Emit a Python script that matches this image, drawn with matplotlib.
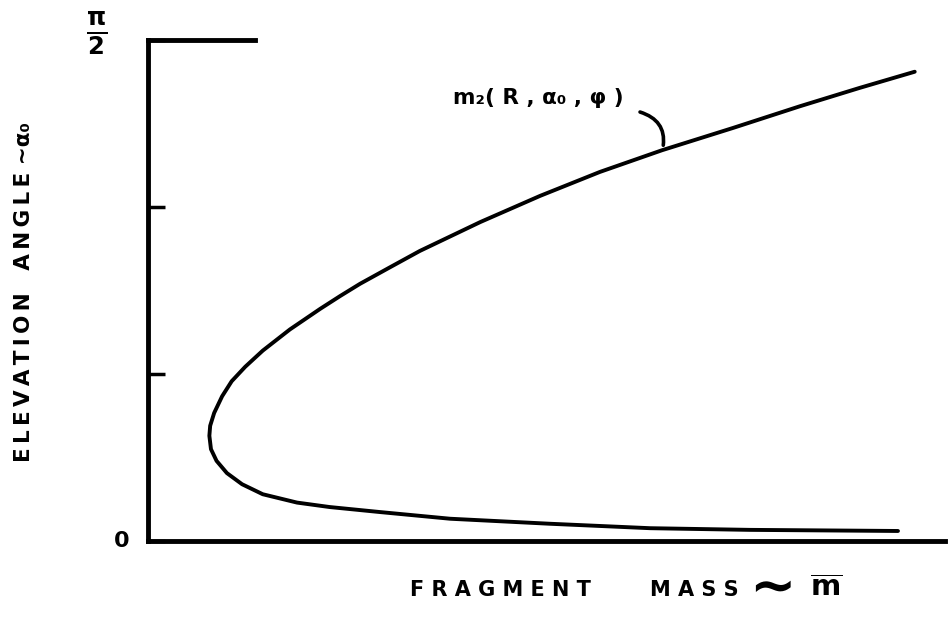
import matplotlib.pyplot as plt

# fragment mass (arbitrary units) vs elevation angle (degrees) along m2(R, a0, phi)
mass_upper = [0.962, 0.893, 0.818, 0.734, 0.645, 0.567, 0.492, 0.417, 0.379,
              0.341, 0.304, 0.266, 0.241, 0.216, 0.178, 0.144, 0.122, 0.105,
              0.093, 0.083, 0.078, 0.077]
angle_upper = [84.3, 81.4, 78.1, 74.2, 70.2, 66.3, 62.0, 57.3, 54.7,
               52.1, 49.2, 46.2, 44.0, 41.7, 38.0, 34.2, 31.3, 28.7,
               26.0, 23.0, 20.7, 18.9]
mass_lower = [0.077, 0.079, 0.086, 0.099, 0.118, 0.144, 0.187, 0.228,
              0.291, 0.379, 0.504, 0.630, 0.755, 0.941]
angle_lower = [18.9, 16.5, 14.4, 12.2, 10.2, 8.4, 6.9, 6.1,
               5.2, 4.0, 3.1, 2.3, 2.0, 1.8]

yticks = [0, 30, 60, 90]

mass = mass_upper + mass_lower[1:]
angle = angle_upper + angle_lower[1:]

fig = plt.figure(figsize=(9.48, 6.18), dpi=100)
ax = fig.add_axes([148 / 948, 77 / 618, 797 / 948, 501 / 618])

ax.plot(mass, angle, color='black', lw=2.8, solid_capstyle='round',
        solid_joinstyle='round')

ax.set_xlim(0, 1)
ax.set_ylim(0, 90)
ax.set_xticks([])
ax.set_yticks(yticks)
ax.set_yticklabels([])
ax.tick_params(axis='y', direction='in', length=12, width=2.5)

for side in ['left', 'bottom', 'top']:
    ax.spines[side].set_linewidth(3.5)
ax.spines['right'].set_visible(False)
ax.spines['top'].set_bounds(0, 0.134)

bold = dict(fontweight='bold', color='black')
ax.text(-0.033, 0, '0', ha='center', va='center', fontsize=16, **bold)
ax.text(-0.064, 91.2, r'$\mathbf{\frac{\pi}{2}}$', ha='center', va='center',
        fontsize=25, **bold)

ax.text(0.49, 79.6, 'm\u2082( R , \u03b1\u2080 , \u03c6 )', ha='center',
        va='center', fontsize=15.5, **bold)
ax.annotate('', xy=(0.646, 70.6), xytext=(0.614, 77.2),
            arrowprops=dict(arrowstyle='-', lw=2.6, color='black',
                            connectionstyle='angle3,angleA=-15,angleB=80'))

fig.text(410 / 948, 1 - 590 / 618, 'F R A G M E N T', ha='left', va='center',
         fontsize=15, **bold)
fig.text(650 / 948, 1 - 590 / 618, 'M A S S', ha='left', va='center',
         fontsize=15, **bold)
fig.text(772 / 948, 1 - 604 / 618, '\u223c', ha='center', va='baseline',
         fontsize=40, **bold)
fig.text(826 / 948, 1 - 588 / 618, r'$\mathbf{\overline{m}}$', ha='center',
         va='center', fontsize=21, **bold)

sp = '\u2009'
ylab = sp.join('ELEVATION') + '   ' + sp.join('ANGLE') + ' \u223c\u03b1\u2080'
fig.text(24 / 948, 1 - 292 / 618, ylab, rotation=90, ha='center', va='center',
         fontsize=15.5, **bold)

fig.savefig('out.png', dpi=100, facecolor='white')
